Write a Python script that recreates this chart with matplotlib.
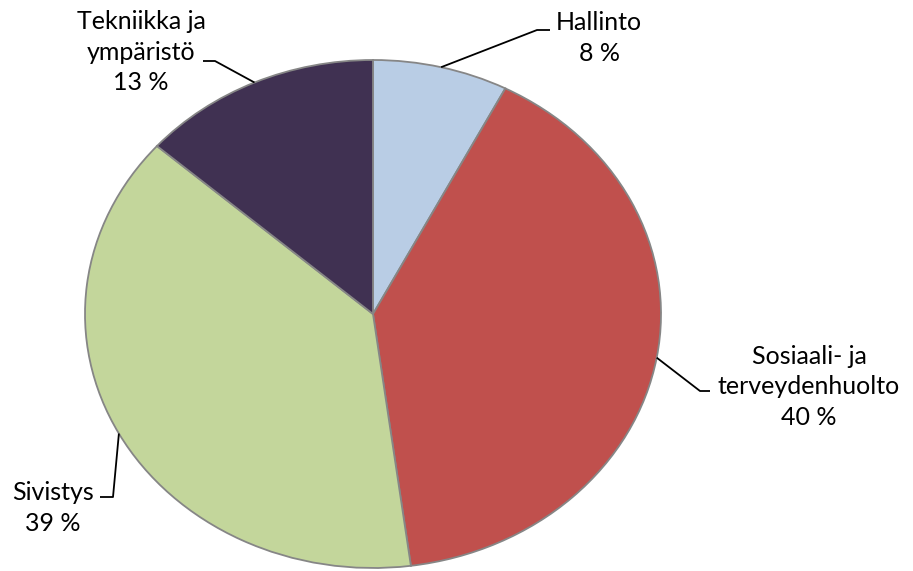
import numpy as np
import matplotlib.pyplot as plt

labels = ["Hallinto", "Sosiaali- ja\nterveydenhuolto", "Sivistys", "Tekniikka ja\nympäristö"]
shares = [7.6, 40.3, 38.6, 13.5]
pct_labels = ["8 %", "40 %", "39 %", "13 %"]
colors = ["#B9CDE5", "#C0504D", "#C3D69B", "#403152"]

W, H = 913, 571
cx, cy = 373, 314   # pie centre in pixels
rx, ry = 288, 254   # the pie is stretched horizontally

plt.rcParams['font.family'] = ['Lato', 'DejaVu Sans']

fig = plt.figure(figsize=(W / 100, H / 100), dpi=100)
ax = fig.add_axes([0, 0, 1, 1])
wedges, _ = ax.pie(shares, colors=colors, startangle=90, counterclock=False,
                   wedgeprops=dict(edgecolor="#868686", linewidth=1.3))
ax.set_aspect("auto")
ax.set_xlim(-cx / rx, (W - cx) / rx)
ax.set_ylim(-(H - cy) / ry, cy / ry)


def px(x, y):
    return (x - cx) / rx, (cy - y) / ry


# label layout: text centre, elbow point, end of horizontal stub (pixels)
text_pos = [(599, 38), (809, 387), (53, 508), (141, 52)]
elbows = [(537, 30), (700, 391), (113, 497), (215, 61)]
stubs = [(550, 30), (710, 391), (100, 497), (203, 61)]

for w, lab, pct, tp, el, st in zip(wedges, labels, pct_labels, text_pos, elbows, stubs):
    mid = np.deg2rad((w.theta1 + w.theta2) / 2)
    anchor = (np.cos(mid), np.sin(mid))
    e = px(*el)
    s = px(*st)
    ax.plot([anchor[0], e[0], s[0]], [anchor[1], e[1], s[1]], color="black", lw=1.3,
            solid_capstyle="butt")
    tx, ty = px(*tp)
    ax.text(tx, ty, lab + "\n" + pct, ha="center", va="center", fontsize=18,
            linespacing=1.42, color="black")

fig.savefig("out.png", dpi=100)
